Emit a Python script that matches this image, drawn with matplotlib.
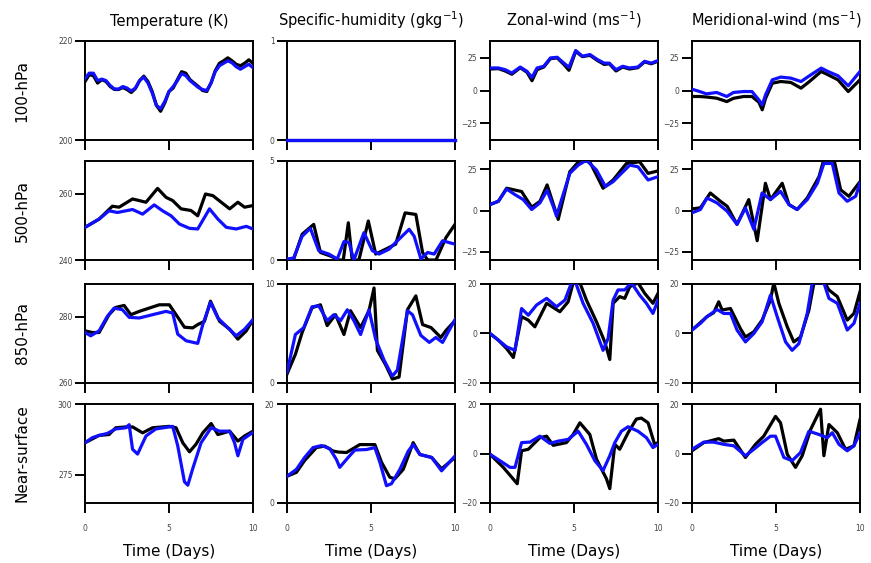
import matplotlib
matplotlib.use('Agg')
import matplotlib.pyplot as plt

# Time series: (day, value); "_k" = black line, "_b" = blue line
days_ticks = [0, 5, 10]

# ---- 100 hPa ----
T100_k = [(0, 211.8), (0.25, 213.2), (0.5, 213.0), (0.75, 211.5), (1, 212.2), (1.25, 211.8), (1.5, 210.8),
          (1.75, 210.2), (2, 210.2), (2.25, 210.6), (2.5, 210.2), (2.75, 209.6), (3, 210.4), (3.25, 212.0),
          (3.5, 212.9), (3.75, 211.8), (4, 209.8), (4.25, 207.0), (4.5, 205.8), (4.75, 207.5), (5, 209.8),
          (5.25, 210.5), (5.5, 212.2), (5.75, 213.8), (6, 213.5), (6.25, 212.2), (6.5, 211.5), (6.75, 210.8),
          (7, 210.0), (7.25, 209.8), (7.5, 211.5), (7.75, 214.0), (8, 215.5), (8.25, 216.0), (8.5, 216.6),
          (8.75, 216.0), (9, 215.3), (9.25, 215.0), (9.5, 215.5), (9.75, 216.2), (10, 215.5)]
T100_b = [(0, 212.4), (0.25, 213.5), (0.5, 213.5), (0.75, 212.0), (1, 212.3), (1.25, 212.0), (1.5, 211.0),
          (1.75, 210.3), (2, 210.3), (2.25, 210.8), (2.5, 210.5), (2.75, 209.9), (3, 210.5), (3.25, 212.0),
          (3.5, 212.7), (3.75, 211.5), (4, 209.5), (4.25, 207.0), (4.5, 206.3), (4.75, 207.8), (5, 209.8),
          (5.25, 210.8), (5.5, 212.0), (5.75, 213.4), (6, 213.0), (6.25, 212.0), (6.5, 211.3), (6.75, 210.6),
          (7, 210.2), (7.25, 210.0), (7.5, 211.5), (7.75, 213.8), (8, 215.0), (8.25, 215.5), (8.5, 216.0),
          (8.75, 215.6), (9, 214.8), (9.25, 214.3), (9.5, 214.8), (9.75, 215.3), (10, 214.6)]
q100_k = [(0, 0.0), (10, 0.0)]
q100_b = [(0, 0.0), (10, 0.0)]
u100_k = [(0, 16.5), (0.5, 16.8), (0.9, 15.0), (1.3, 12.5), (1.8, 17.5), (2.2, 14.0), (2.5, 7.5), (2.8, 16.0),
          (3.2, 18.0), (3.6, 24.5), (4.0, 25.0), (4.4, 20.0), (4.7, 15.5), (5.1, 30.0), (5.5, 26.0),
          (5.95, 27.0), (6.4, 23.0), (6.8, 20.0), (7.1, 20.5), (7.5, 15.0), (7.9, 18.0), (8.3, 16.5),
          (8.8, 17.5), (9.2, 22.0), (9.6, 20.5), (10, 22.5)]
u100_b = [(0, 17.3), (0.5, 17.3), (0.9, 16.0), (1.3, 13.4), (1.8, 18.0), (2.2, 14.7), (2.5, 10.0), (2.8, 17.3),
          (3.2, 18.6), (3.6, 25.0), (4.0, 25.5), (4.4, 21.0), (4.7, 17.8), (5.1, 30.7), (5.5, 26.3),
          (5.95, 27.6), (6.4, 23.7), (6.8, 21.0), (7.1, 21.0), (7.5, 16.0), (7.9, 18.6), (8.3, 17.3),
          (8.8, 18.0), (9.2, 22.4), (9.6, 21.0), (10, 23.0)]
v100_k = [(0, -4.6), (0.46, -4.6), (0.86, -5.0), (1.47, -5.9), (2.07, -8.5), (2.47, -6.0), (3.07, -4.6),
          (3.57, -4.6), (3.98, -9.0), (4.18, -14.8), (4.38, -6.0), (4.78, 5.6), (5.28, 6.9), (5.88, 6.2),
          (6.49, 1.8), (6.99, 6.9), (7.69, 14.6), (8.09, 12.1), (8.69, 8.2), (9.3, -0.8), (10, 8.2)]
v100_b = [(0, 1.0), (0.46, -0.8), (0.86, -2.6), (1.47, -1.5), (2.07, -4.6), (2.47, -1.5), (3.07, -0.8),
          (3.57, -0.8), (3.98, -7.2), (4.18, -11.0), (4.38, -3.3), (4.78, 8.2), (5.28, 10.3), (5.88, 9.5),
          (6.49, 6.9), (6.99, 11.3), (7.69, 17.2), (8.09, 14.6), (8.69, 11.3), (9.3, 3.6), (10, 14.6)]

# ---- 500 hPa ----
T500_k = [(0, 249.9), (0.84, 252.4), (1.63, 256.3), (2.03, 256.0), (2.83, 258.5), (3.63, 257.5), (4.32, 261.7),
          (4.82, 259.0), (5.22, 258.0), (5.72, 255.5), (6.31, 255.0), (6.71, 253.4), (7.17, 260.0),
          (7.61, 259.5), (8.11, 257.5), (8.61, 255.5), (9.1, 257.5), (9.5, 256.0), (10, 256.5)]
T500_b = [(0, 249.9), (0.84, 252.4), (1.43, 254.9), (1.93, 254.4), (2.83, 255.3), (3.43, 253.9), (4.12, 256.7),
          (4.62, 254.9), (5.12, 253.4), (5.62, 250.9), (6.22, 249.6), (6.71, 249.4), (7.41, 255.5),
          (7.91, 252.4), (8.41, 249.9), (9.0, 249.4), (9.6, 250.2), (10, 249.4)]
q500_k = [(0, 0.0), (0.4, 0.05), (0.9, 1.3), (1.59, 1.8), (1.99, 0.38), (2.59, 0.2), (3.09, 0.0), (3.35, 0.0),
          (3.65, 1.88), (3.88, 0.0), (4.28, 0.0), (4.84, 1.97), (5.28, 0.3), (5.88, 0.55), (6.47, 0.8),
          (7.03, 2.38), (7.67, 2.3), (8.07, 0.38), (8.37, 0.0), (8.87, 0.0), (9.46, 1.13), (10, 1.8)]
q500_b = [(0, 0.05), (0.4, 0.1), (0.9, 1.2), (1.39, 1.6), (1.89, 0.47), (2.49, 0.3), (2.99, 0.05), (3.39, 0.93),
          (3.69, 0.88), (3.98, 0.0), (4.58, 1.38), (5.08, 0.47), (5.48, 0.3), (6.08, 0.55), (6.57, 0.97),
          (7.27, 1.55), (7.57, 1.2), (7.97, 0.05), (8.37, 0.38), (8.76, 0.3), (9.26, 0.97), (10, 0.8)]
u500_k = [(0, 3.6), (0.5, 5.6), (0.99, 13.5), (1.88, 11.5), (2.48, 2.0), (2.97, 5.5), (3.4, 15.5), (4.06, -5.4),
          (4.75, 23.5), (5.35, 30.5), (5.94, 29.5), (6.73, 13.5), (7.33, 18.5), (8.12, 28.5), (8.91, 29.5),
          (9.41, 22.5), (10, 24.0)]
u500_b = [(0, 3.6), (0.5, 5.6), (0.99, 13.0), (1.49, 9.6), (1.98, 6.6), (2.48, 0.6), (2.97, 4.6), (3.4, 12.2),
          (3.76, 2.6), (3.96, -3.4), (4.26, 6.6), (4.75, 22.5), (5.25, 27.5), (5.74, 30.5), (6.34, 24.5),
          (6.87, 14.5), (7.33, 17.5), (7.82, 22.5), (8.32, 27.5), (8.81, 26.5), (9.41, 18.5), (10, 20.5)]
v500_k = [(0, 1.0), (0.5, 1.6), (1.09, 10.6), (1.69, 5.6), (2.09, 2.6), (2.68, -8.4), (3.38, 6.6), (3.88, -18.3),
          (4.37, 16.5), (4.67, 6.6), (5.37, 16.5), (5.77, 3.6), (6.26, 0.6), (6.86, 7.6), (7.56, 20.5),
          (7.85, 31.0), (8.45, 31.0), (8.85, 12.5), (9.34, 8.6), (10, 17.5)]
v500_b = [(0, -1.4), (0.5, 0.6), (0.89, 7.6), (1.49, 4.6), (2.09, -0.4), (2.68, -8.4), (3.18, 1.6), (3.68, -11.4),
          (4.17, 10.6), (4.67, 6.6), (5.27, 11.6), (5.77, 3.6), (6.26, 0.6), (6.86, 6.6), (7.46, 16.5),
          (7.85, 28.5), (8.35, 28.5), (8.75, 10.6), (9.24, 5.6), (9.74, 8.6), (10, 16.5)]

# ---- 850 hPa ----
T850_k = [(0, 275.8), (0.44, 275.3), (0.84, 275.3), (1.43, 280.7), (1.83, 282.9), (2.33, 283.5), (2.73, 280.7),
          (3.23, 281.7), (3.82, 282.7), (4.42, 283.7), (5.02, 283.7), (5.42, 280.7), (5.92, 276.9),
          (6.41, 276.7), (6.71, 277.7), (7.11, 278.7), (7.47, 284.8), (8.01, 278.7), (8.61, 276.3),
          (9.1, 273.3), (9.6, 275.8), (10, 279.2)]
T850_b = [(0, 275.3), (0.34, 274.3), (0.84, 275.8), (1.33, 280.2), (1.73, 282.7), (2.23, 282.2), (2.63, 279.9),
          (3.23, 279.7), (4.02, 280.7), (4.82, 281.7), (5.22, 281.2), (5.52, 274.8), (6.02, 272.8),
          (6.71, 272.0), (7.01, 277.7), (7.47, 284.4), (7.91, 279.7), (8.41, 277.2), (9.0, 274.3),
          (9.5, 276.3), (10, 279.2)]
q850_k = [(0, 0.9), (0.5, 2.9), (0.9, 5.1), (1.49, 7.6), (1.99, 7.9), (2.39, 5.8), (2.89, 6.9), (3.39, 4.9),
          (3.78, 7.3), (4.38, 5.6), (4.88, 7.3), (5.18, 9.6), (5.38, 3.3), (5.88, 1.8), (6.27, 0.4),
          (6.67, 0.6), (7.17, 7.4), (7.67, 8.8), (8.07, 5.9), (8.57, 5.6), (9.16, 4.6), (9.46, 5.3), (10, 6.3)]
q850_b = [(0, 1.1), (0.5, 4.9), (1.0, 5.6), (1.49, 7.7), (1.89, 7.8), (2.39, 6.3), (2.79, 6.9), (3.19, 6.3),
          (3.59, 7.4), (3.98, 6.3), (4.38, 4.9), (4.88, 7.4), (5.28, 4.4), (5.78, 2.3), (6.27, 0.7),
          (6.57, 1.3), (7.17, 7.3), (7.47, 6.9), (7.97, 4.8), (8.47, 4.1), (8.86, 4.6), (9.26, 4.1), (10, 6.4)]
u850_k = [(0, 0.0), (0.5, -2.7), (0.99, -6.1), (1.39, -9.7), (1.88, 6.8), (2.28, 5.4), (2.67, 2.7), (3.37, 12.2),
          (4.16, 8.8), (4.65, 12.8), (4.95, 20.5), (5.35, 20.5), (5.74, 13.5), (6.34, 4.7), (6.83, -3.4),
          (7.13, -10.5), (7.33, 12.2), (7.72, 14.9), (8.02, 14.2), (8.32, 18.9), (8.81, 20.5), (9.21, 16.2),
          (9.7, 12.2), (10, 16.2)]
u850_b = [(0, 0.0), (0.5, -2.7), (0.99, -5.4), (1.49, -6.8), (1.88, 10.1), (2.28, 7.4), (2.77, 11.5),
          (3.37, 14.2), (3.96, 10.8), (4.46, 13.5), (4.85, 20.5), (5.1, 20.5), (5.54, 12.2), (6.14, 4.1),
          (6.73, -6.8), (7.03, -2.0), (7.33, 13.5), (7.62, 17.6), (8.02, 17.6), (8.42, 20.5), (8.91, 15.5),
          (9.31, 12.2), (9.7, 8.1), (10, 13.5)]
v850_k = [(0, 1.4), (0.89, 6.8), (1.29, 8.4), (1.59, 12.8), (1.79, 9.5), (2.29, 10.1), (2.88, 2.0), (3.18, -1.4),
          (3.68, 0.7), (4.17, 5.4), (4.67, 13.5), (4.87, 20.5), (5.17, 12.2), (5.67, 2.7), (6.06, -3.4),
          (6.46, -1.4), (6.96, 9.5), (7.26, 20.5), (7.9, 20.5), (8.15, 17.6), (8.65, 14.9), (9.24, 5.4),
          (9.64, 8.1), (10, 16.9)]
v850_b = [(0, 1.4), (0.5, 4.1), (0.89, 6.8), (1.49, 9.7), (1.89, 8.1), (2.29, 8.1), (2.68, 1.4), (3.18, -3.4),
          (3.68, 0.0), (4.17, 4.7), (4.67, 15.5), (5.07, 6.8), (5.57, -3.4), (5.96, -6.8), (6.36, -4.1),
          (6.86, 8.1), (7.16, 20.5), (7.85, 20.5), (8.15, 14.2), (8.65, 12.2), (9.24, 1.4), (9.64, 4.1),
          (10, 12.2)]

# ---- Near-surface ----
Tsfc_k = [(0, 286.3), (0.84, 288.9), (1.43, 289.2), (1.83, 291.6), (2.43, 291.9), (2.83, 291.9), (3.43, 289.8),
          (4.02, 291.6), (5.02, 292.1), (5.42, 291.6), (5.82, 286.3), (6.22, 283.1), (6.61, 285.8),
          (7.01, 289.8), (7.51, 293.1), (7.91, 289.2), (8.61, 290.4), (9.1, 286.9), (9.5, 288.7), (10, 290.4)]
Tsfc_b = [(0, 286.3), (0.44, 288.1), (0.84, 288.9), (1.33, 289.6), (1.83, 291.2), (2.43, 291.6), (2.63, 292.7),
          (2.83, 284.0), (3.13, 282.3), (3.63, 288.7), (4.22, 291.2), (5.02, 291.9), (5.22, 292.1),
          (5.52, 285.2), (5.92, 272.5), (6.12, 271.3), (6.41, 277.1), (6.91, 286.3), (7.51, 291.6),
          (8.01, 290.4), (8.61, 290.4), (8.9, 286.3), (9.1, 281.7), (9.4, 287.5), (10, 290.0)]
qsfc_k = [(0, 5.4), (0.56, 6.2), (1.05, 8.6), (1.75, 11.2), (2.25, 11.5), (2.74, 10.5), (3.04, 10.3),
          (3.54, 10.2), (4.04, 11.2), (4.33, 11.8), (5.23, 11.8), (5.63, 8.2), (6.12, 5.2), (6.42, 4.9),
          (6.92, 6.8), (7.51, 12.2), (7.91, 9.8), (8.61, 9.2), (9.2, 6.9), (10, 9.2)]
qsfc_b = [(0, 5.4), (0.56, 6.8), (1.05, 9.2), (1.55, 11.2), (2.05, 11.6), (2.54, 11.0), (2.94, 8.8), (3.14, 7.2),
          (3.64, 9.2), (4.04, 10.7), (4.73, 10.8), (5.23, 11.2), (5.53, 8.2), (5.92, 3.5), (6.22, 3.9),
          (6.72, 6.8), (7.22, 10.5), (7.51, 11.8), (7.91, 9.8), (8.61, 9.2), (9.2, 6.5), (10, 9.5)]
usfc_k = [(0, -0.3), (0.79, -5.6), (1.62, -12.2), (1.88, 1.1), (2.28, 1.7), (2.97, 6.4), (3.37, 7.0),
          (3.76, 3.3), (4.55, 4.4), (4.95, 7.7), (5.35, 12.4), (5.94, 7.7), (6.34, -2.3), (6.93, -10.2),
          (7.13, -14.2), (7.43, 3.7), (7.72, 1.7), (8.22, 8.4), (8.71, 13.9), (9.01, 14.3), (9.41, 12.4),
          (9.8, 3.7), (10, 4.4)]
usfc_b = [(0, -0.3), (0.59, -2.9), (1.19, -5.6), (1.49, -5.6), (1.88, 4.4), (2.38, 4.6), (2.97, 7.0),
          (3.56, 4.1), (4.06, 5.0), (4.65, 5.7), (5.25, 9.0), (5.74, 3.7), (6.24, -2.9), (6.73, -6.9),
          (7.13, -0.9), (7.43, 4.4), (7.82, 9.0), (8.22, 10.8), (8.81, 9.0), (9.31, 6.4), (9.7, 2.4), (10, 3.7)]
vsfc_k = [(0, 1.1), (0.7, 4.4), (1.59, 6.0), (1.89, 5.0), (2.49, 5.4), (3.18, -1.6), (3.78, 3.7), (4.27, 7.0),
          (4.97, 15.0), (5.27, 12.4), (5.67, -0.3), (6.16, -5.6), (6.56, -0.9), (7.06, 9.7), (7.65, 17.9),
          (7.85, -0.9), (8.15, 11.7), (8.65, 8.4), (9.14, 1.7), (9.64, 3.1), (10, 13.7)]
vsfc_b = [(0, 1.7), (0.7, 4.6), (1.29, 4.6), (1.89, 3.7), (2.49, 3.1), (3.18, -0.9), (3.68, 1.7), (4.17, 4.4),
          (4.67, 7.0), (4.97, 7.0), (5.47, -1.6), (5.96, -2.9), (6.46, 0.4), (6.96, 9.0), (7.55, 7.7),
          (8.05, 6.4), (8.35, 8.4), (8.75, 3.7), (9.24, 1.1), (9.64, 3.1), (10, 8.4)]

col_titles = ['Temperature (K)', 'Specific-humidity (gkg$^{-1}$)',
              'Zonal-wind (ms$^{-1}$)', 'Meridional-wind (ms$^{-1}$)']
row_titles = ['100-hPa', '500-hPa', '850-hPa', 'Near-surface']

series = [
    [(T100_k, T100_b), (q100_k, q100_b), (u100_k, u100_b), (v100_k, v100_b)],
    [(T500_k, T500_b), (q500_k, q500_b), (u500_k, u500_b), (v500_k, v500_b)],
    [(T850_k, T850_b), (q850_k, q850_b), (u850_k, u850_b), (v850_k, v850_b)],
    [(Tsfc_k, Tsfc_b), (qsfc_k, qsfc_b), (usfc_k, usfc_b), (vsfc_k, vsfc_b)],
]

ylims = [
    [(200, 220), (0, 1), (-38, 38), (-38, 38)],
    [(240, 270), (0, 5), (-30, 30), (-30, 30)],
    [(260, 290), (0, 10), (-20, 20), (-20, 20)],
    [(265, 300), (0, 20), (-20, 20), (-20, 20)],
]
yticks = [
    [[200, 220], [0, 1], [-25, 0, 25], [-25, 0, 25]],
    [[240, 260], [0, 5], [-25, 0, 25], [-25, 0, 25]],
    [[260, 280], [0, 10], [-20, 0, 20], [-20, 0, 20]],
    [[275, 300], [0, 20], [-20, 0, 20], [-20, 0, 20]],
]

fig = plt.figure(figsize=(8.71, 5.63), dpi=100)

lefts = [85, 287, 490, 692]
tops = [41, 161, 284, 404]
W, H = 871, 563
aw, ah = 168, 99

for r in range(4):
    for c in range(4):
        ax = fig.add_axes([lefts[c] / W, 1 - (tops[r] + ah) / H, aw / W, ah / H])
        k, b = series[r][c]
        tk, vk = zip(*k)
        tb, vb = zip(*b)
        flat = (r == 0 and c == 1)  # zero humidity sits on the bottom spine
        ax.plot(tk, vk, color='black', lw=2.3, zorder=3, clip_on=not flat)
        ax.plot(tb, vb, color='#1010ff', lw=2.3, zorder=3, clip_on=not flat)
        ax.set_xlim(0, 10)
        ax.set_ylim(*ylims[r][c])
        ax.set_xticks(days_ticks)
        ax.set_yticks(yticks[r][c])
        ax.tick_params(direction='out', length=7, width=1.4, labelsize=5.5,
                       labelcolor='#444444', pad=2)
        if r < 3:
            ax.tick_params(labelbottom=False)
        else:
            ax.tick_params(axis='x', pad=8)
            ax.set_xlabel('Time (Days)', fontsize=11, labelpad=8)
        for s in ax.spines.values():
            s.set_linewidth(1.4)
        if r == 0:
            ax.set_title(col_titles[c], fontsize=10.5, pad=11)
        if c == 0:
            fig.text(22 / W, 1 - (tops[r] + ah / 2) / H, row_titles[r], rotation=90,
                     ha='center', va='center', fontsize=11)

fig.savefig('out.png', dpi=100)
